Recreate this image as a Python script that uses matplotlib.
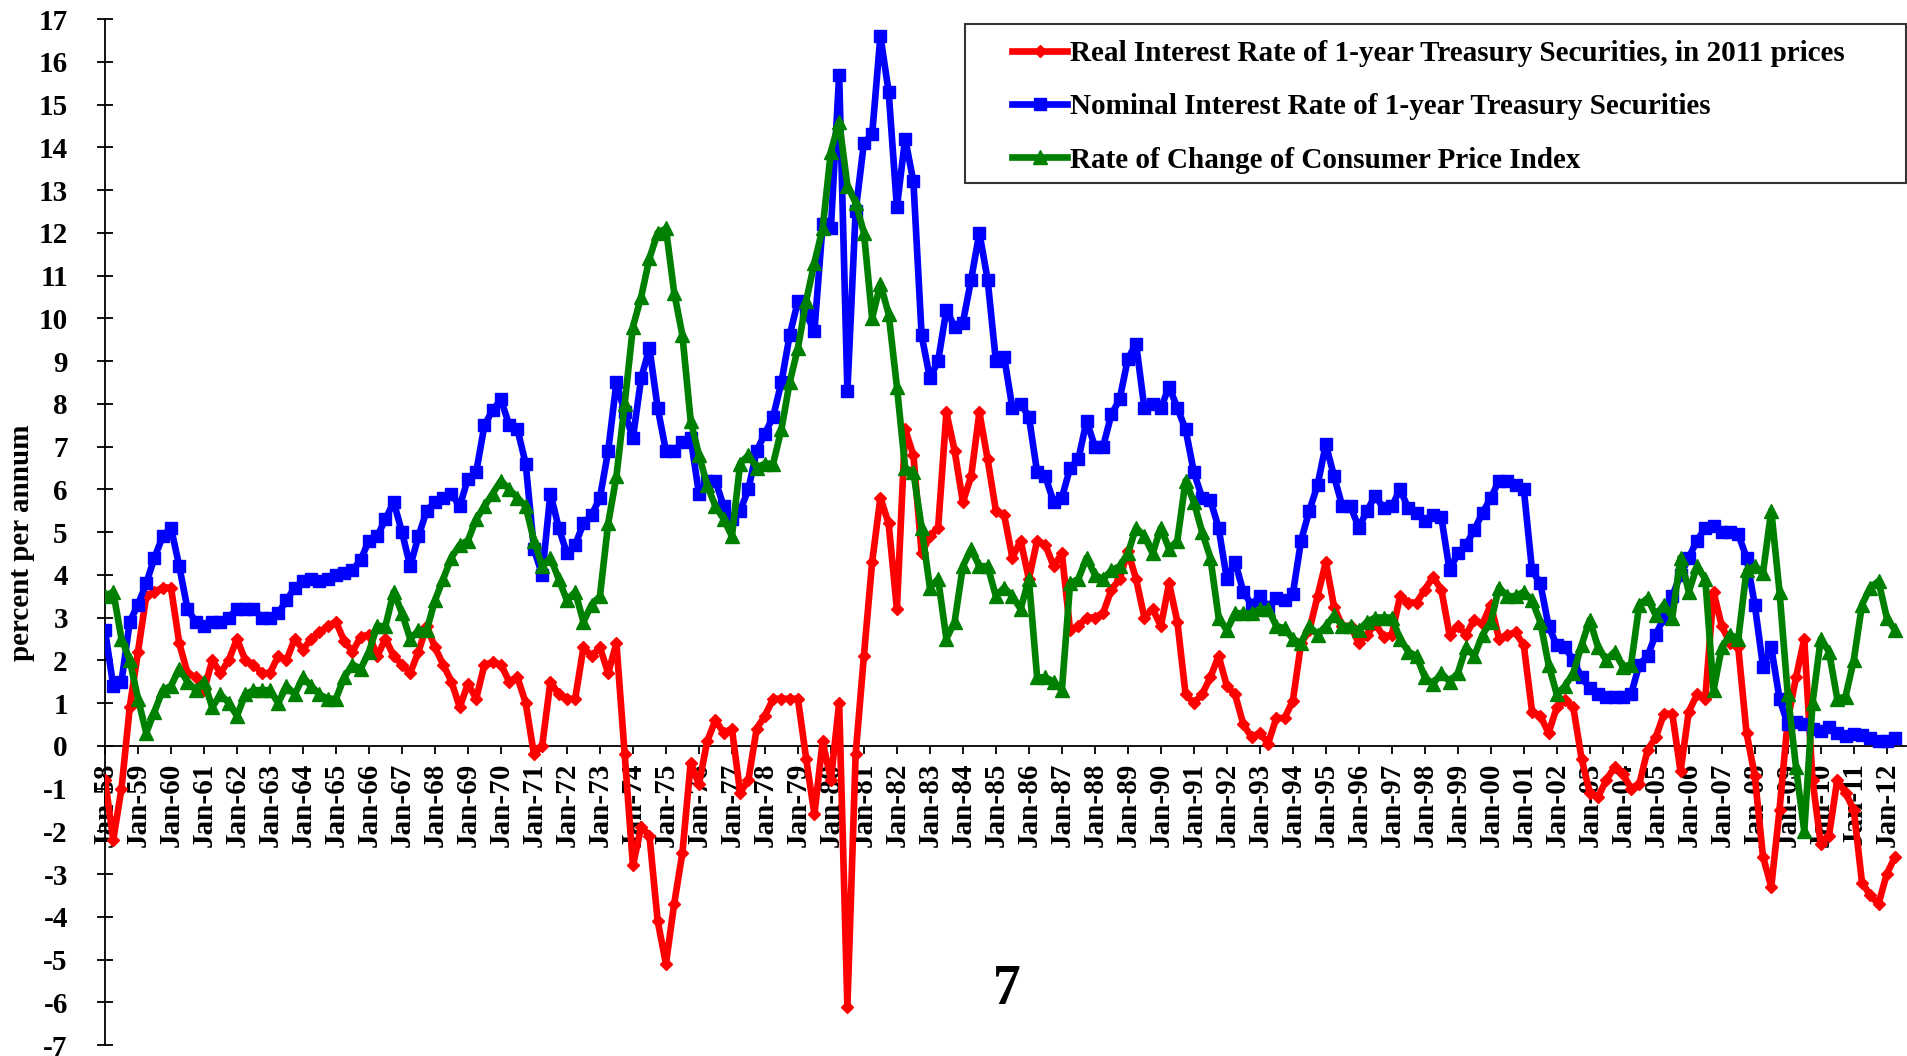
import numpy as np
import matplotlib.pyplot as plt
from matplotlib.patches import Rectangle

plt.rcParams['font.family'] = ['Liberation Serif', 'DejaVu Serif']
plt.rcParams['font.weight'] = 'bold'
plt.rcParams['axes.unicode_minus'] = False

# ── data: quarterly readings (Jan, Apr, Jul, Oct), Jan-1958 .. Apr-2012 ──
nominal = [
    2.7, 1.4, 1.5, 2.9,      3.3, 3.8, 4.4, 4.9,      5.1, 4.2, 3.2, 2.9,
    2.8, 2.9, 2.9, 3.0,      3.2, 3.2, 3.2, 3.0,      3.0, 3.1, 3.4, 3.7,
    3.85, 3.9, 3.85, 3.9,    4.0, 4.05, 4.1, 4.35,    4.8, 4.9, 5.3, 5.7,
    5.0, 4.2, 4.9, 5.5,      5.7, 5.8, 5.9, 5.6,      6.25, 6.4, 7.5, 7.85,
    8.1, 7.5, 7.4, 6.6,      4.6, 4.0, 5.9, 5.1,      4.5, 4.7, 5.2, 5.4,
    5.8, 6.9, 8.5, 7.8,      7.2, 8.6, 9.3, 7.9,      6.9, 6.9, 7.1, 7.2,
    5.9, 6.2, 6.2, 5.6,      5.3, 5.5, 6.0, 6.9,      7.3, 7.7, 8.5, 9.6,
    10.4, 10.1, 9.7, 12.2,   12.1, 15.7, 8.3, 12.5,   14.1, 14.3, 16.6, 15.3,
    12.6, 14.2, 13.2, 9.6,   8.6, 9.0, 10.2, 9.8,     9.9, 10.9, 12.0, 10.9,
    9.0, 9.1, 7.9, 8.0,      7.7, 6.4, 6.3, 5.7,      5.8, 6.5, 6.7, 7.6,
    7.0, 7.0, 7.75, 8.1,     9.05, 9.4, 7.9, 8.0,     7.9, 8.4, 7.9, 7.4,
    6.4, 5.8, 5.75, 5.1,     3.9, 4.3, 3.6, 3.3,      3.5, 3.25, 3.45, 3.4,
    3.55, 4.8, 5.5, 6.1,     7.05, 6.3, 5.6, 5.6,     5.1, 5.5, 5.85, 5.55,
    5.6, 6.0, 5.55, 5.45,    5.25, 5.4, 5.35, 4.1,    4.5, 4.7, 5.05, 5.45,
    5.8, 6.2, 6.2, 6.1,      6.0, 4.1, 3.8, 2.8,      2.35, 2.3, 2.0, 1.6,
    1.35, 1.2, 1.15, 1.15,   1.15, 1.2, 1.9, 2.1,     2.6, 3.0, 3.5, 4.0,
    4.4, 4.8, 5.1, 5.15,     5.0, 5.0, 4.95, 4.4,     3.3, 1.85, 2.3, 1.1,
    0.5, 0.55, 0.5, 0.4,     0.35, 0.45, 0.3, 0.23,   0.27, 0.25, 0.19, 0.11,
    0.12, 0.18,
]

cpi = [
    3.5, 3.6, 2.5, 2.0,      1.1, 0.3, 0.8, 1.3,      1.4, 1.8, 1.5, 1.3,
    1.5, 0.9, 1.2, 1.0,      0.7, 1.2, 1.3, 1.3,      1.3, 1.0, 1.4, 1.2,
    1.6, 1.4, 1.2, 1.1,      1.1, 1.6, 1.9, 1.8,      2.2, 2.8, 2.8, 3.6,
    3.1, 2.5, 2.7, 2.7,      3.4, 3.9, 4.4, 4.7,      4.8, 5.3, 5.6, 5.9,
    6.2, 6.0, 5.8, 5.6,      4.8, 4.2, 4.4, 3.9,      3.4, 3.6, 2.9, 3.3,
    3.5, 5.2, 6.3, 8.0,      9.8, 10.5, 11.4, 12.0,   12.1, 10.6, 9.6, 7.6,
    6.8, 6.1, 5.6, 5.3,      4.9, 6.6, 6.8, 6.5,      6.6, 6.6, 7.4, 8.5,
    9.3, 10.4, 11.3, 12.1,   13.9, 14.6, 13.1, 12.7,  12.0, 10.0, 10.8, 10.1,
    8.4, 6.5, 6.4, 5.1,      3.7, 3.9, 2.5, 2.9,      4.2, 4.6, 4.2, 4.2,
    3.5, 3.7, 3.5, 3.2,      3.9, 1.6, 1.6, 1.5,      1.3, 3.8, 3.9, 4.4,
    4.0, 3.9, 4.1, 4.2,      4.5, 5.1, 4.9, 4.5,      5.1, 4.6, 4.8, 6.2,
    5.7, 5.0, 4.4, 3.0,      2.7, 3.1, 3.1, 3.1,      3.2, 3.2, 2.8, 2.75,
    2.5, 2.4, 2.8, 2.6,      2.8, 3.05, 2.8, 2.8,     2.7, 2.9, 3.0, 3.0,
    3.0, 2.5, 2.2, 2.1,      1.6, 1.45, 1.7, 1.5,     1.7, 2.3, 2.1, 2.6,
    2.9, 3.7, 3.5, 3.5,      3.6, 3.4, 2.9, 1.9,      1.2, 1.4, 1.7, 2.35,
    2.95, 2.3, 2.0, 2.2,     1.85, 1.9, 3.3, 3.45,    3.05, 3.3, 3.0, 4.4,
    3.6, 4.2, 3.9, 1.3,      2.3, 2.6, 2.5, 4.1,      4.2, 4.05, 5.5, 3.6,
    1.2, -0.5, -2.0, 1.0,    2.5, 2.2, 1.1, 1.15,     2.0, 3.3, 3.7, 3.85,
    3.0, 2.7,
]

real = [
    -0.8, -2.2, -1.0, 0.9,   2.2, 3.5, 3.6, 3.7,      3.7, 2.4, 1.7, 1.6,
    1.3, 2.0, 1.7, 2.0,      2.5, 2.0, 1.9, 1.7,      1.7, 2.1, 2.0, 2.5,
    2.25, 2.5, 2.65, 2.8,    2.9, 2.45, 2.2, 2.55,    2.6, 2.1, 2.5, 2.1,
    1.9, 1.7, 2.2, 2.8,      2.3, 1.9, 1.5, 0.9,      1.45, 1.1, 1.9, 1.95,
    1.9, 1.5, 1.6, 1.0,      -0.2, 0.0, 1.5, 1.2,     1.1, 1.1, 2.3, 2.1,
    2.3, 1.7, 2.4, -0.2,     -2.8, -1.9, -2.1, -4.1,  -5.1, -3.7, -2.5, -0.4,
    -0.9, 0.1, 0.6, 0.3,     0.4, -1.1, -0.8, 0.4,    0.7, 1.1, 1.1, 1.1,
    1.1, -0.3, -1.6, 0.1,    -0.8, 1.0, -6.1, -0.2,   2.1, 4.3, 5.8, 5.2,
    3.2, 7.4, 6.8, 4.5,      4.9, 5.1, 7.8, 6.9,      5.7, 6.3, 7.8, 6.7,
    5.5, 5.4, 4.4, 4.8,      3.9, 4.8, 4.7, 4.2,      4.5, 2.7, 2.8, 3.0,
    3.0, 3.1, 3.65, 3.9,     4.55, 3.9, 3.0, 3.2,     2.8, 3.8, 2.9, 1.2,
    1.0, 1.2, 1.6, 2.1,      1.4, 1.2, 0.5, 0.2,      0.3, 0.05, 0.65, 0.65,
    1.05, 2.4, 2.7, 3.5,     4.3, 3.25, 2.8, 2.8,     2.4, 2.6, 2.85, 2.55,
    2.6, 3.5, 3.35, 3.35,    3.65, 3.95, 3.65, 2.6,   2.8, 2.6, 2.95, 2.85,
    3.3, 2.5, 2.6, 2.65,     2.35, 0.8, 0.7, 0.3,     0.9, 1.07, 0.9, -0.3,
    -1.1, -1.2, -0.8, -0.5,  -0.65, -1.0, -0.9, -0.1, 0.2, 0.75, 0.75, -0.6,
    0.8, 1.2, 1.1, 3.6,      2.8, 2.4, 2.3, 0.3,      -0.7, -2.6, -3.3, -1.5,
    0.6, 1.6, 2.5, -0.8,     -2.3, -2.1, -0.8, -1.1,  -1.5, -3.2, -3.5, -3.7,
    -3.0, -2.6,
]

years = list(range(1958, 2013))
tick_labels = [f"Jan-{y % 100:02d}" for y in years]

series_names = [
    "Real Interest Rate of 1-year Treasury Securities, in 2011 prices",
    "Nominal Interest Rate of 1-year Treasury Securities",
    "Rate of Change of Consumer Price Index",
]

# ── figure ────────────────────────────────────────────────────
W, H = 1907, 1056
fig = plt.figure(figsize=(W / 100, H / 100), dpi=100)
ax = fig.add_axes([105 / W, 1 - 1045 / H, (1906 - 105) / W, (1045 - 19) / H])

# spine position first: moving a spine resets the ticks
for s in ["top", "right"]:
    ax.spines[s].set_visible(False)
ax.spines["bottom"].set_position(("data", 0))
ax.spines["left"].set_linewidth(1.3)
ax.spines["bottom"].set_linewidth(1.3)

months = np.arange(len(nominal)) * 3   # quarterly points on a monthly axis

h_real, = ax.plot(months, real, color="#FF0000", lw=4.8, marker="D", ms=6,
                  mec="#FF0000", zorder=3)
h_nom, = ax.plot(months, nominal, color="#0000FF", lw=4.8, marker="s", ms=8.5,
                 mec="#0000FF", zorder=4)
h_cpi, = ax.plot(months, cpi, color="#008000", lw=4.8, marker="^", ms=9.5,
                 mec="#008000", zorder=5)

ax.set_xlim(0, 655)
ax.set_ylim(-7, 17)
ax.set_yticks(range(-7, 18))
ax.tick_params(axis="y", direction="inout", length=11.5, width=1.3, pad=21,
               labelsize=21)
ax.set_xticks(np.arange(len(years)) * 12)
ax.set_xticklabels(tick_labels, rotation=90, fontsize=21)
ax.tick_params(axis="x", direction="out", length=6, width=1.3, pad=6)
ax.set_axisbelow(True)

# legend: frameless, with a hand-drawn box
fig.add_artist(Rectangle((965 / W, 1 - 183 / H), (1906 - 965) / W, (183 - 24) / H,
                         transform=fig.transFigure, fill=False,
                         edgecolor="#333333", lw=1.5))
ax.legend([h_real, h_nom, h_cpi], series_names, frameon=False,
          loc="upper left", bbox_to_anchor=(1012 / W, 1 - 40 / H),
          bbox_transform=fig.transFigure, borderpad=0, borderaxespad=0,
          handlelength=1.9, handletextpad=0.1, labelspacing=0.9,
          fontsize=21, numpoints=1)

fig.text(22 / W, 1 - 543 / H, "percent per annum", rotation=90, fontsize=21,
         ha="center", va="center")
fig.text(1007 / W, 1 - 990 / H, "7", fontsize=40, ha="center", va="center")

fig.savefig("out.png", dpi=100, facecolor="white")
